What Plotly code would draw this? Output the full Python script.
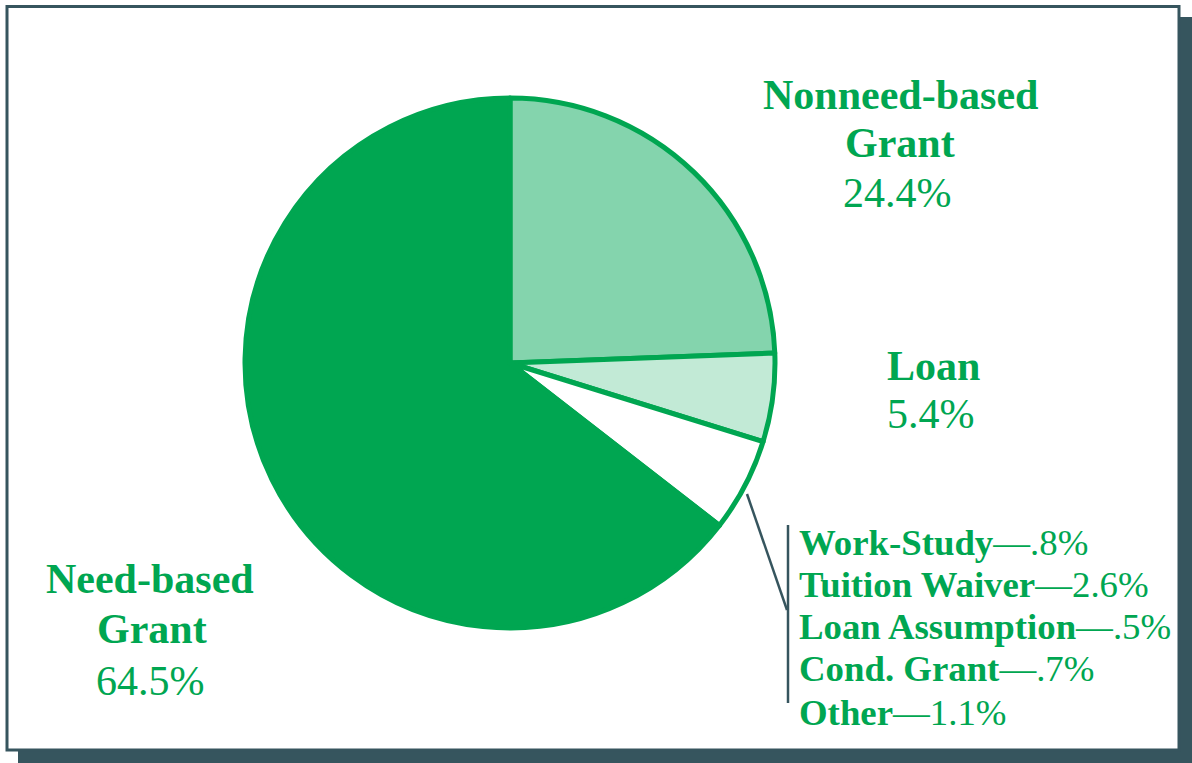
import plotly.graph_objects as go

W, H = 1192, 763

slice_labels = ["Nonneed-based Grant", "Loan", "Other aid", "Need-based Grant"]
slice_values = [24.4, 5.4, 5.7, 64.5]
slice_colors = ["#84d4ad", "#c2ead6", "#ffffff", "#00a651"]

breakdown_names = ["Work-Study", "Tuition Waiver", "Loan Assumption", "Cond. Grant", "Other"]
breakdown_values = [".8%", "2.6%", ".5%", ".7%", "1.1%"]

GREEN = "#00a651"
DARK = "#36555e"
FONT = "Liberation Serif"

def px(x):
    return x / W

def py(y):
    return 1 - y / H

cx, cy, r = 510, 363, 265

fig = go.Figure()
fig.add_trace(go.Pie(
    labels=slice_labels,
    values=slice_values,
    sort=False,
    direction="clockwise",
    rotation=0,
    marker=dict(colors=slice_colors, line=dict(color=GREEN, width=5)),
    textinfo="none",
    hoverinfo="skip",
    showlegend=False,
    domain=dict(x=[px(cx - r), px(cx + r)], y=[py(cy + r), py(cy - r)]),
))

shapes = [
    # shadow
    dict(type="rect", xref="paper", yref="paper", x0=px(18), x1=px(1192), y0=py(763), y1=py(17),
         fillcolor=DARK, line=dict(width=0), layer="below"),
    # box
    dict(type="rect", xref="paper", yref="paper", x0=px(7), x1=px(1179), y0=py(750), y1=py(6.5),
         fillcolor="white", line=dict(color=DARK, width=3), layer="below"),
    # leader line
    dict(type="line", xref="paper", yref="paper", x0=px(747), y0=py(494), x1=px(787), y1=py(610),
         line=dict(color=DARK, width=2.5)),
    dict(type="line", xref="paper", yref="paper", x0=px(788), y0=py(525), x1=px(788), y1=py(703),
         line=dict(color=DARK, width=2.5)),
]

annotations = []

def label(text, x, y, size, bold, anchor="center"):
    t = f"<b>{text}</b>" if bold else text
    annotations.append(dict(text=t, x=px(x), y=py(y), xref="paper", yref="paper",
                            xanchor=anchor, yanchor="middle", showarrow=False,
                            font=dict(family=FONT, size=size, color=GREEN)))

TS = 42
label("Nonneed-based", 900, 95, TS, True)
label("Grant", 900, 143, TS, True)
label(f"{slice_values[0]}%", 897, 193, TS, False)
label(slice_labels[1], 933, 366, TS, True)
label(f"{slice_values[1]}%", 931, 414, TS, False)
label("Need-based", 150, 579, TS, True)
label("Grant", 152, 629, TS, True)
label(f"{slice_values[3]}%", 150, 681, TS, False)

list_y = [542, 584, 626, 668, 712]
for name, val, y in zip(breakdown_names, breakdown_values, list_y):
    annotations.append(dict(text=f"<b>{name}</b>—{val}", x=px(797), y=py(y), xref="paper", yref="paper",
                            xanchor="left", yanchor="middle", showarrow=False,
                            font=dict(family=FONT, size=36.8, color=GREEN)))

fig.update_layout(
    width=W, height=H,
    margin=dict(l=0, r=0, t=0, b=0),
    paper_bgcolor="white",
    plot_bgcolor="white",
    shapes=shapes,
    annotations=annotations,
)

fig.write_html("out.html", config={"displayModeBar": False},
               post_script="document.body.style.margin='0';document.body.style.overflow='hidden';")
